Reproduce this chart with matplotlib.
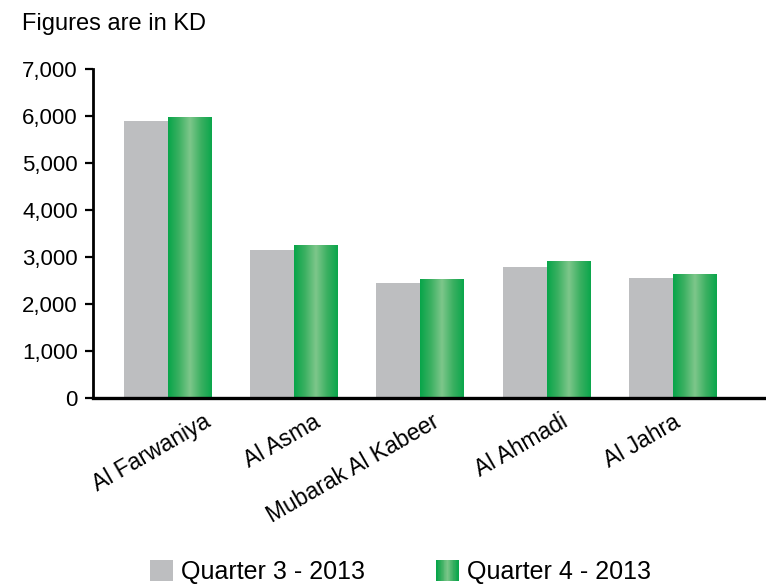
import numpy as np
import matplotlib
matplotlib.use('Agg')
import matplotlib.pyplot as plt
from matplotlib.colors import LinearSegmentedColormap
from matplotlib.patches import Rectangle
from matplotlib.legend_handler import HandlerBase

plt.rcParams['font.family'] = ['Liberation Sans', 'DejaVu Sans']

regions = ['Al Farwaniya', 'Al Asma', 'Mubarak Al Kabeer', 'Al Ahmadi', 'Al Jahra']
q3_2013 = [5900, 3150, 2450, 2790, 2555]
q4_2013 = [5980, 3240, 2530, 2900, 2640]
yticks = [0, 1000, 2000, 3000, 4000, 5000, 6000, 7000]
series_names = ['Quarter 3 - 2013', 'Quarter 4 - 2013']

# per-label horizontal nudges (px); the labels in the original are not evenly placed
label_nudge = [35, 19, 11, 13, 0]

gray = '#bdbec0'
green_cmap = LinearSegmentedColormap.from_list(
    'bar_green', ['#07a549', '#3cb062', '#7ec78b', '#3cb062', '#0aa64b'])

fig = plt.figure(figsize=(7.66, 5.86), dpi=100)
ax = fig.add_axes([93/766, 188/586, 673/766, 328.7/586])

x = np.arange(len(regions))
w = 0.3485
ax.bar(x - w/2, q3_2013, w, color=gray, zorder=2)
green_bars = ax.bar(x + w/2, q4_2013, w, color='none', zorder=2)

# horizontal gradient on the green bars
grad = np.linspace(0, 1, 256).reshape(1, -1)
for b in green_bars:
    x0, h = b.get_x(), b.get_height()
    ax.imshow(grad, cmap=green_cmap, aspect='auto', zorder=2,
              extent=(x0, x0 + b.get_width(), 0, h), interpolation='bicubic')

ax.set_xlim(-0.594, 4.737)
ax.set_ylim(0, 7000)
ax.set_yticks(yticks)
ax.set_yticklabels([f'{v:,}' for v in yticks], fontsize=16)
ax.set_xticks(x)
ax.set_xticklabels([])
for i, (name, dx) in enumerate(zip(regions, label_nudge)):
    ax.annotate(name, xy=(i, 0), xycoords=('data', 'axes fraction'),
                xytext=(dx, -12), textcoords='offset pixels', fontsize=16.5,
                rotation=30, ha='right', va='top', rotation_mode='anchor',
                annotation_clip=False)

ax.tick_params(axis='x', length=0)
ax.tick_params(axis='y', length=6, width=1.6, pad=5, colors='black')
for s in ['top', 'right']:
    ax.spines[s].set_visible(False)
ax.spines['left'].set_linewidth(2)
ax.spines['bottom'].set_linewidth(2.4)

fig.text(22/766, 1 - 30/586, 'Figures are in KD', fontsize=17, ha='left',
         va='baseline')


class GradientHandler(HandlerBase):
    def create_artists(self, legend, orig_handle, xdescent, ydescent,
                       width, height, fontsize, trans):
        n = 30
        cols = green_cmap(np.linspace(0, 1, n))
        arts = []
        for i in range(n):
            r = Rectangle((-xdescent + i * width / n, -ydescent), width / n + 0.3,
                          height, facecolor=cols[i], edgecolor='none',
                          transform=trans)
            arts.append(r)
        return arts


h1 = Rectangle((0, 0), 1, 1, facecolor=gray, edgecolor='none')
h2 = Rectangle((0, 0), 1, 1, facecolor='#0aa64b', edgecolor='none')
fig.legend([h1, h2], series_names, loc='lower left',
           bbox_to_anchor=(150/766, 2/586), ncol=2, frameon=False,
           fontsize=18, handlelength=0.9, handleheight=0.9,
           handletextpad=0.33, columnspacing=2.85, borderpad=0,
           borderaxespad=0, handler_map={h2: GradientHandler()})

fig.savefig('out.png', dpi=100)
